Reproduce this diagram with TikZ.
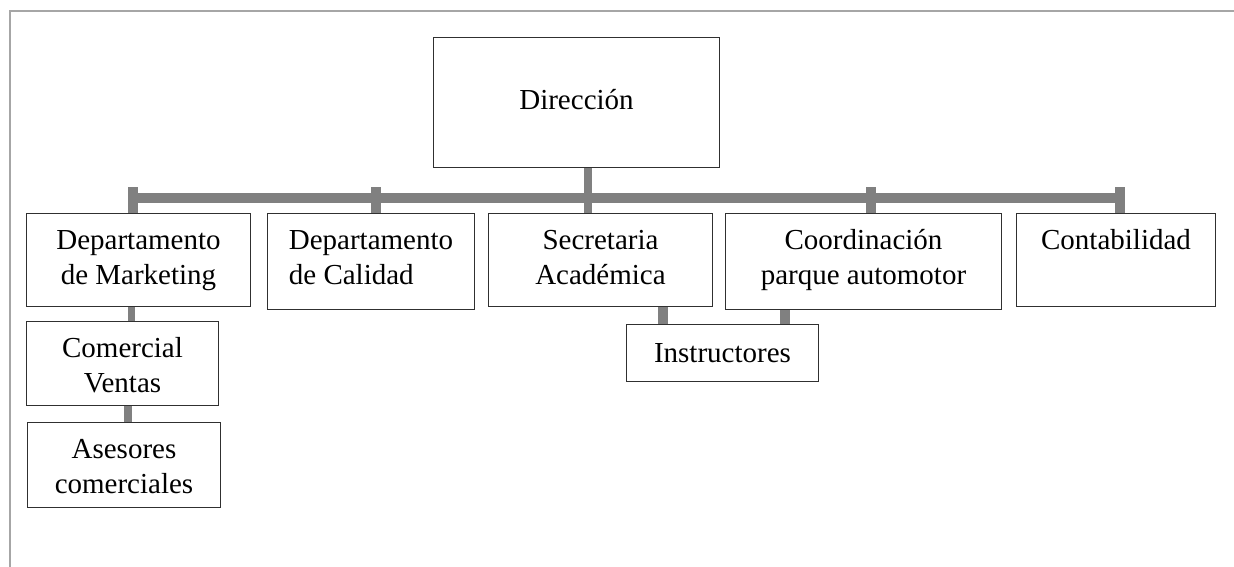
\documentclass[tikz,border=0pt]{standalone}
\usepackage{fontspec}
\setmainfont{Liberation Serif}
\definecolor{conngray}{HTML}{808080}
\definecolor{framegray}{HTML}{A6A6A6}
\definecolor{boxline}{HTML}{303030}
\newcommand{\lowstrut}[1]{\rule{0pt}{#1}}
\newcommand{\deepstrut}[1]{\rule[-#1]{0pt}{1pt}}
\begin{document}
\begin{tikzpicture}[x=1pt,y=-1pt,
  box/.style={draw=boxline, line width=1pt, inner sep=0pt, anchor=north west,
    align=center, font=\fontsize{29}{35}\selectfont},
  conn/.style={draw=conngray, line width=10pt},
  thinconn/.style={draw=conngray, line width=7pt}]
\useasboundingbox[fill=white] (0,0) rectangle (1234,567);
% frame
\draw[framegray, line width=2pt] (9.5,567) -- (9.5,11.5) -- (1234,11.5);
% boxes
\node[box, minimum width=286pt, minimum height=130pt] (dir) at (433,37) {\strut Dirección};
\node[box, minimum width=224pt, minimum height=93pt] (mk) at (26,213) {\strut Departamento\\\strut de Marketing};
\node[box, minimum width=207pt, minimum height=96pt, align=left] (cal) at (267,213) {\strut Departamento\\\strut de Calidad\deepstrut{13.5pt}};
\node[box, minimum width=224pt, minimum height=93pt] (sec) at (488,213) {\strut Secretaria\\\strut Académica};
\node[box, minimum width=276pt, minimum height=96pt] (coo) at (725,213) {\strut Coordinación\\\strut parque automotor\deepstrut{13.5pt}};
\node[box, minimum width=199pt, minimum height=93pt] (con) at (1016,213) {\strut Contabilidad\\\strut};
\node[box, minimum width=192pt, minimum height=84pt] (com) at (26,321) {\lowstrut{32.5pt}\strut Comercial\\\strut Ventas};
\node[box, minimum width=193pt, minimum height=85pt] (ase) at (27,422) {\lowstrut{32.5pt}\strut Asesores\\\strut comerciales};
\node[box, minimum width=192pt, minimum height=57pt] (ins) at (626,324) {\lowstrut{29.5pt}\strut Instructores};
% bus coordinates
\coordinate (t1) at (133,187);
\coordinate (t2) at (376,187);
\coordinate (t3) at (588,198);
\coordinate (t4) at (871,187);
\coordinate (t5) at (1120,187);
\coordinate (b1) at (128,198);
\coordinate (b5) at (1125,198);
% bus
\draw[conn] (b1) -- (b5);
\draw[conn] (t1) -- (t1 |- mk.north);
\draw[conn] (t2) -- (t2 |- cal.north);
\draw[conn, line width=8pt] (t3 |- dir.south) -- (t3 |- sec.north);
\draw[conn] (t4) -- (t4 |- coo.north);
\draw[conn] (t5) -- (t5 |- con.north);
% sub connectors
\coordinate (s1) at (131,0);
\coordinate (s2) at (128,0);
\coordinate (s3) at (663,0);
\coordinate (s4) at (785,0);
\draw[thinconn] (s1 |- mk.south) -- (s1 |- com.north);
\draw[thinconn, line width=8pt] (s2 |- com.south) -- (s2 |- ase.north);
\draw[conn] (s3 |- sec.south) -- (s3 |- ins.north);
\draw[conn] (s4 |- coo.south) -- (s4 |- ins.north);
\end{tikzpicture}
\end{document}
